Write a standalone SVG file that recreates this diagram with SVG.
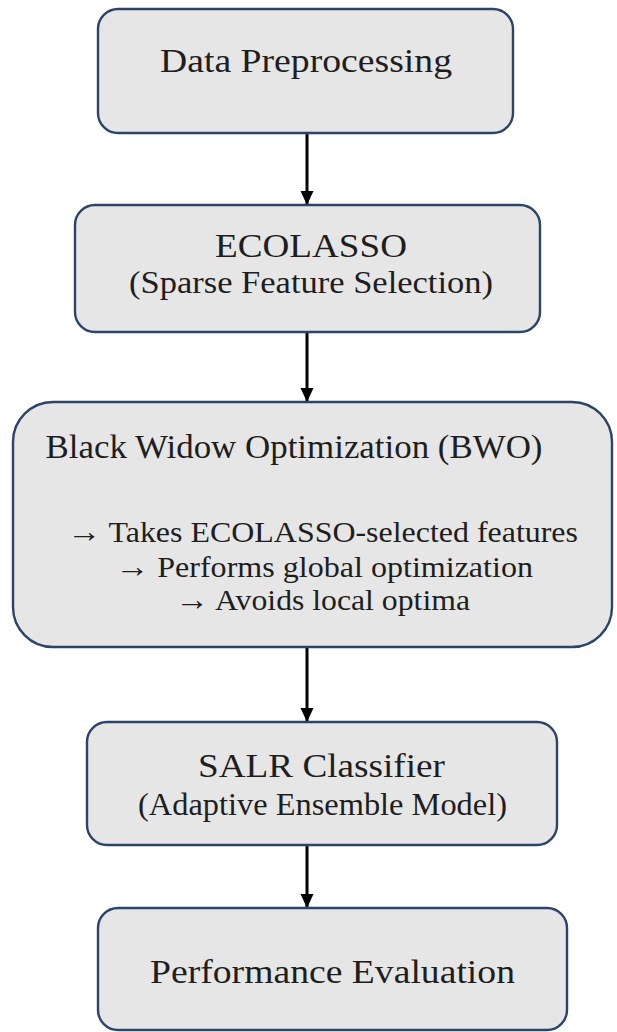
<svg xmlns="http://www.w3.org/2000/svg" width="617" height="1032" viewBox="0 0 617 1032">
  <style>
    .box { fill: #e6e6e6; stroke: #2b4468; stroke-width: 2.4; }
    .conn { stroke: #000; stroke-width: 3; fill: none; marker-end: url(#ah); }
  </style>
  <defs>
    <marker id="ah" markerUnits="userSpaceOnUse" markerWidth="14" markerHeight="14" viewBox="0 0 14 14" refX="14" refY="7" orient="auto">
      <path d="M0,0.5 L14,7 L0,13.5 Z" fill="#000"/>
    </marker>
  </defs>
  <rect width="617" height="1032" fill="#ffffff"/>

  <g id="connectors">
    <line class="conn" x1="307" y1="134" x2="307" y2="205"/>
    <line class="conn" x1="307" y1="333" x2="307" y2="402"/>
    <line class="conn" x1="307" y1="648" x2="307" y2="722"/>
    <line class="conn" x1="307" y1="846" x2="307" y2="908"/>
  </g>

  <g id="node-data-preprocessing" font-family="Liberation Serif, serif" fill="#1e1e1e" text-anchor="middle">
    <rect class="box" x="98" y="9" width="415" height="124" rx="20"/>
    <text font-family="Liberation Serif" font-size="34" x="306" y="72" textLength="292" lengthAdjust="spacingAndGlyphs">Data Preprocessing</text>
  </g>

  <g id="node-ecolasso" font-family="Liberation Serif, serif" fill="#1e1e1e" text-anchor="middle">
    <rect class="box" x="75" y="205" width="465" height="127" rx="20"/>
    <text font-family="Liberation Serif" font-size="34" x="311" y="257" textLength="192" lengthAdjust="spacingAndGlyphs">ECOLASSO</text>
    <text font-family="Liberation Serif" font-size="32" x="311" y="293" textLength="364" lengthAdjust="spacingAndGlyphs">(Sparse Feature Selection)</text>
  </g>

  <g id="node-bwo" font-family="Liberation Serif, serif" fill="#1e1e1e" text-anchor="middle">
    <rect class="box" x="13" y="402" width="599" height="245" rx="40"/>
    <text font-family="Liberation Serif" font-size="34" x="294" y="458" textLength="497" lengthAdjust="spacingAndGlyphs">Black Widow Optimization (BWO)</text>
    <text font-family="Liberation Serif" font-size="30" x="322.5" y="542" textLength="511" lengthAdjust="spacingAndGlyphs"><tspan font-size="32" font-weight="bold">→</tspan> Takes ECOLASSO-selected features</text>
    <text font-family="Liberation Serif" font-size="30" x="324" y="577" textLength="418" lengthAdjust="spacingAndGlyphs"><tspan font-size="32" font-weight="bold">→</tspan> Performs global optimization</text>
    <text font-family="Liberation Serif" font-size="30" x="322.5" y="610" textLength="295" lengthAdjust="spacingAndGlyphs"><tspan font-size="32" font-weight="bold">→</tspan> Avoids local optima</text>
  </g>

  <g id="node-salr" font-family="Liberation Serif, serif" fill="#1e1e1e" text-anchor="middle">
    <rect class="box" x="87" y="722" width="470" height="123" rx="20"/>
    <text font-family="Liberation Serif" font-size="33" x="321.5" y="777" textLength="247" lengthAdjust="spacingAndGlyphs">SALR Classifier</text>
    <text font-family="Liberation Serif" font-size="32" x="322.5" y="815" textLength="369" lengthAdjust="spacingAndGlyphs">(Adaptive Ensemble Model)</text>
  </g>

  <g id="node-performance" font-family="Liberation Serif, serif" fill="#1e1e1e" text-anchor="middle">
    <rect class="box" x="98" y="908" width="469" height="122" rx="20"/>
    <text font-family="Liberation Serif" font-size="34" x="332.5" y="983" textLength="365" lengthAdjust="spacingAndGlyphs">Performance Evaluation</text>
  </g>
</svg>
